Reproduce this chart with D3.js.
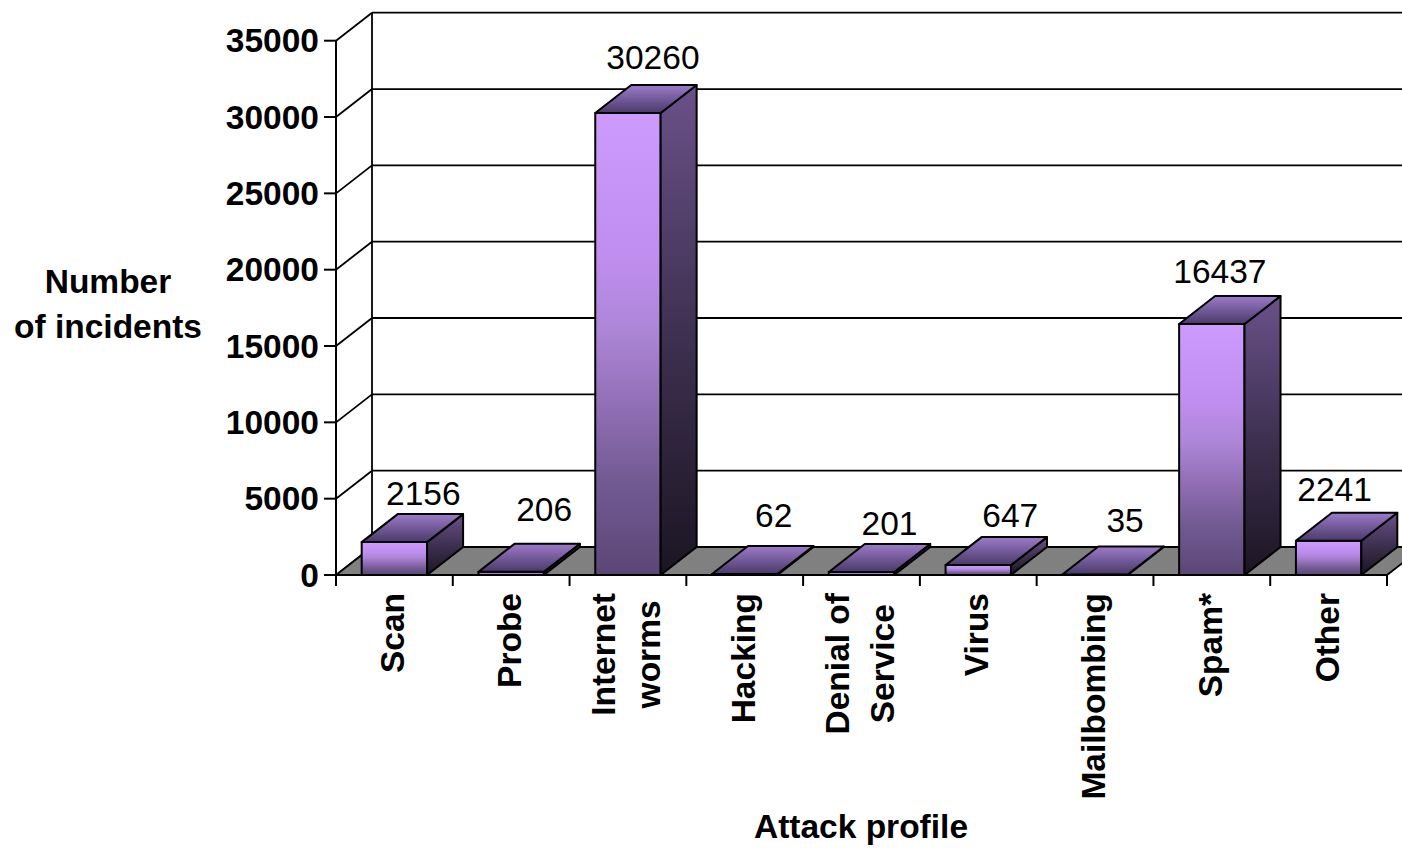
<!DOCTYPE html>
<html>
<head>
<meta charset="utf-8">
<script src="https://cdn.jsdelivr.net/npm/d3@7"></script>
<style>
  html, body { margin: 0; padding: 0; background: #fff; }
  svg { display: block; }
  text { font-family: "Liberation Sans", Arial, sans-serif; fill: #000; }
</style>
</head>
<body>
<svg id="chart" width="1402" height="849"></svg>
<script>
// Incidents by attack profile
const categories = [
  ["Scan"], ["Probe"], ["Internet", "worms"], ["Hacking"], ["Denial of", "Service"],
  ["Virus"], ["Mailbombing"], ["Spam*"], ["Other"]
];
const incidents = [2156, 206, 30260, 62, 201, 647, 35, 16437, 2241];
const yTicks = [0, 5000, 10000, 15000, 20000, 25000, 30000, 35000];
const yTitle = ["Number", "of incidents"];
const xTitle = "Attack profile";

// hand-placed nudges for the value labels (px, relative to the default anchor)
const labelNudgeX = [1, 5, -3, 1, 0, 4, 2, -20, -22];
const labelNudgeY = [4, -10, -3, -6, 4, 3, -1, 0, 1];

// layout
const svg = d3.select("#chart");
const plot = { left: 336, right: 1387, bottom: 575, top: 40.7 };
const depth = { dx: 36, dy: -28 };
const keys = categories.map(c => c.join(" "));
const fontSize = 33.5;

const x = d3.scaleBand().domain(keys).range([plot.left, plot.right]).paddingInner(0).paddingOuter(0);
const y = d3.scaleLinear().domain([0, 35000]).range([plot.bottom, plot.top]);
const barW = x.bandwidth() * 0.56;

// gradients
const defs = svg.append("defs");
function vGrad(id, stops) {
  const g = defs.append("linearGradient").attr("id", id)
    .attr("x1", 0).attr("y1", 0).attr("x2", 0).attr("y2", 1);
  stops.forEach(([o, c]) => g.append("stop").attr("offset", o).attr("stop-color", c));
}
vGrad("gFront", [[0, "#CC9BFD"], [0.3, "#C08EF0"], [0.47, "#AD86D8"], [0.62, "#9470B8"], [0.8, "#715A92"], [1, "#5C4676"]]);
vGrad("gSide", [[0, "#6A5189"], [0.5, "#3F3152"], [1, "#1B1522"]]);
vGrad("gTop", [[0, "#9C7BC9"], [0.5, "#735A9A"], [1, "#4A3A68"]]);

const line = (pts) => "M" + pts.map(p => p.join(",")).join("L");
const poly = (pts) => line(pts) + "Z";

// back wall gridlines
const x0 = plot.left, x1 = plot.right;
const g = svg.append("g");
g.selectAll("line.grid").data(yTicks).join("line")
  .attr("x1", x0 + depth.dx).attr("x2", x1 + depth.dx)
  .attr("y1", d => y(d) + depth.dy).attr("y2", d => y(d) + depth.dy)
  .attr("stroke", "#000").attr("stroke-width", 1.8);

// side wall: diagonal gridlines and back edge
g.selectAll("line.side").data(yTicks).join("line")
  .attr("x1", x0).attr("x2", x0 + depth.dx)
  .attr("y1", d => y(d)).attr("y2", d => y(d) + depth.dy)
  .attr("stroke", "#000").attr("stroke-width", 1.8);
g.append("line")
  .attr("x1", x0 + depth.dx).attr("x2", x0 + depth.dx)
  .attr("y1", y(35000) + depth.dy).attr("y2", y(0) + depth.dy)
  .attr("stroke", "#000").attr("stroke-width", 1.8);

// floor
g.append("path")
  .attr("d", poly([[x0, y(0)], [x1, y(0)], [x1 + depth.dx, y(0) + depth.dy], [x0 + depth.dx, y(0) + depth.dy]]))
  .attr("fill", "#808080").attr("stroke", "#000").attr("stroke-width", 1.8);

// front value axis
g.append("line").attr("x1", x0).attr("x2", x0).attr("y1", y(35000)).attr("y2", y(0))
  .attr("stroke", "#000").attr("stroke-width", 2);
g.selectAll("line.ytick").data(yTicks).join("line")
  .attr("x1", x0 - 12).attr("x2", x0).attr("y1", d => y(d)).attr("y2", d => y(d))
  .attr("stroke", "#000").attr("stroke-width", 2);
g.selectAll("text.ylab").data(yTicks).join("text")
  .attr("x", x0 - 17).attr("y", d => y(d)).attr("dy", "0.35em")
  .attr("text-anchor", "end").attr("font-weight", "bold").attr("font-size", fontSize)
  .text(d => d);

// category ticks
const catEdges = d3.range(keys.length + 1).map(i => plot.left + i * x.step());
g.selectAll("line.xtick").data(catEdges).join("line")
  .attr("x1", d => d).attr("x2", d => d).attr("y1", y(0)).attr("y2", y(0) + 11)
  .attr("stroke", "#000").attr("stroke-width", 2);

// bars
const bars = svg.append("g").selectAll("g.bar").data(incidents).join("g");
bars.each(function (v, i) {
  const gb = d3.select(this);
  const bx0 = x(keys[i]) + (x.bandwidth() - barW) / 2;
  const bx1 = bx0 + barW;
  const yt = y(v), yb = y(0);
  const s = { stroke: "#000", w: 2 };
  gb.append("path").attr("d", poly([[bx0, yt], [bx1, yt], [bx1, yb], [bx0, yb]]))
    .attr("fill", "url(#gFront)").attr("stroke", s.stroke).attr("stroke-width", s.w).attr("stroke-linejoin", "round");
  gb.append("path").attr("d", poly([[bx1, yt], [bx1 + depth.dx, yt + depth.dy], [bx1 + depth.dx, yb + depth.dy], [bx1, yb]]))
    .attr("fill", "url(#gSide)").attr("stroke", s.stroke).attr("stroke-width", s.w).attr("stroke-linejoin", "round");
  gb.append("path").attr("d", poly([[bx0, yt], [bx0 + depth.dx, yt + depth.dy], [bx1 + depth.dx, yt + depth.dy], [bx1, yt]]))
    .attr("fill", "url(#gTop)").attr("stroke", s.stroke).attr("stroke-width", s.w).attr("stroke-linejoin", "round");
});

// value labels
svg.append("g").selectAll("text").data(incidents).join("text")
  .attr("x", (d, i) => x(keys[i]) + x.bandwidth() / 2 + 28 + labelNudgeX[i])
  .attr("y", (d, i) => y(d) + depth.dy - 13 + labelNudgeY[i])
  .attr("text-anchor", "middle").attr("font-size", fontSize)
  .text(d => d);

// category labels, rotated, lines centred on each other and top-aligned
const lineGap = 45, labTop = 593;
const cl = svg.append("g").selectAll("g").data(categories).join("g");
cl.each(function (lines, i) {
  const gc = d3.select(this);
  const cx = x(keys[i]) + x.bandwidth() / 2;
  const texts = lines.map(l => gc.append("text").attr("font-size", fontSize).attr("font-weight", "bold")
    .attr("text-anchor", "middle").text(l));
  const maxLen = d3.max(texts, t => t.node().getComputedTextLength());
  const midY = labTop + maxLen / 2;
  texts.forEach((t, j) => {
    const bx = cx + 10 + (j - (lines.length - 1) / 2) * lineGap;
    t.attr("transform", `translate(${bx},${midY}) rotate(-90)`);
  });
});

// axis titles
svg.append("g").selectAll("text").data(yTitle).join("text")
  .attr("x", 108).attr("y", (d, i) => 293 + i * 45)
  .attr("text-anchor", "middle").attr("font-weight", "bold").attr("font-size", fontSize)
  .text(d => d);
svg.append("text").attr("x", 861).attr("y", 838)
  .attr("text-anchor", "middle").attr("font-weight", "bold").attr("font-size", fontSize)
  .text(xTitle);
</script>
</body>
</html>
